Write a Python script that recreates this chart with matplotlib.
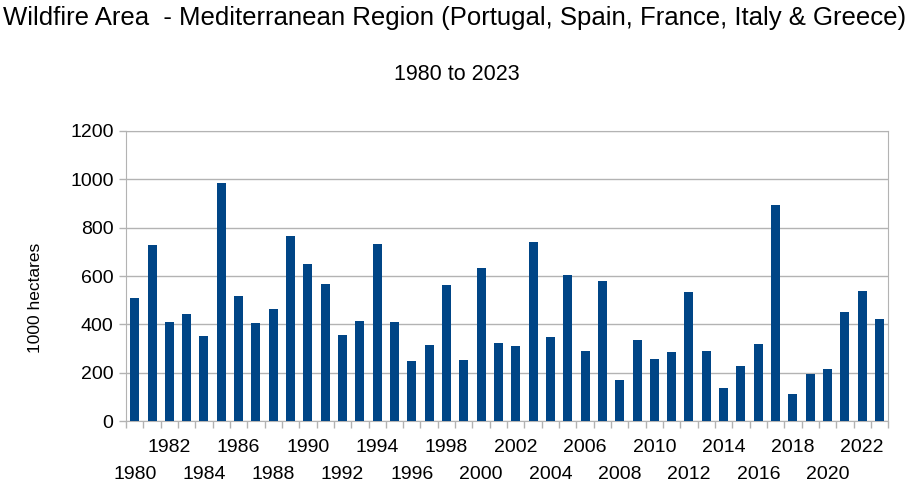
import numpy as np
import matplotlib
matplotlib.use("Agg")
import matplotlib.pyplot as plt

plt.rcParams['font.family'] = ['Liberation Sans', 'DejaVu Sans']

years = list(range(1980, 2024))
area = [508, 728, 408, 443, 354, 983, 519, 405, 465, 767,
        648, 567, 357, 415, 734, 410, 247, 316, 561, 251,
        634, 323, 310, 742, 349, 603, 292, 579, 172, 335,
        255, 288, 535, 292, 139, 229, 320, 895, 112, 197,
        217, 450, 539, 423]
top_row_years = list(range(1982, 2023, 4))
bottom_row_years = list(range(1980, 2021, 4))

title = "Wildfire Area  - Mediterranean Region (Portugal, Spain, France, Italy & Greece)"
subtitle = "1980 to 2023"
ylabel = "1000 hectares"

bar_color = "#004586"
grid_color = "#b3b3b3"

fig = plt.figure(figsize=(9.1, 4.83), dpi=100)
ax = fig.add_axes([0.1385, 0.128, 0.8375, 0.601])

ax.bar(years, area, width=0.52, color=bar_color, zorder=3)

ax.set_xlim(years[0] - 0.5, years[-1] + 0.5)
ax.set_ylim(0, 1200)
ax.set_yticks(range(0, 1201, 200))
ax.yaxis.grid(True, color=grid_color, linewidth=1, zorder=0)

# tick marks between bars
ax.set_xticks([y - 0.5 for y in years] + [years[-1] + 0.5])
ax.set_xticklabels([])
ax.tick_params(axis="x", which="major", length=5, color=grid_color, width=1)

# labels on bar centres, staggered in two rows
ax.set_xticks(top_row_years, minor=True)
ax.set_xticklabels([str(y) for y in top_row_years], minor=True, fontsize=14)
ax.tick_params(axis="x", which="minor", length=0, pad=13)

sec = ax.secondary_xaxis("bottom")
sec.set_xticks(bottom_row_years)
sec.set_xticklabels([str(y) for y in bottom_row_years], fontsize=14)
sec.tick_params(length=0, pad=32)
sec.spines["bottom"].set_visible(False)

ax.tick_params(axis="y", length=5, color=grid_color, width=1, labelsize=14, pad=4)

for s in ax.spines.values():
    s.set_color(grid_color)

fig.text(35 / 910, 1 - 298 / 483, ylabel, rotation=90, ha="center", va="center", fontsize=12.5)

fig.text(0.5, 0.963, title, ha="center", va="center", fontsize=18.5)
fig.text(0.502, 0.845, subtitle, ha="center", va="center", fontsize=15.5)

fig.savefig("out.png", dpi=100)
